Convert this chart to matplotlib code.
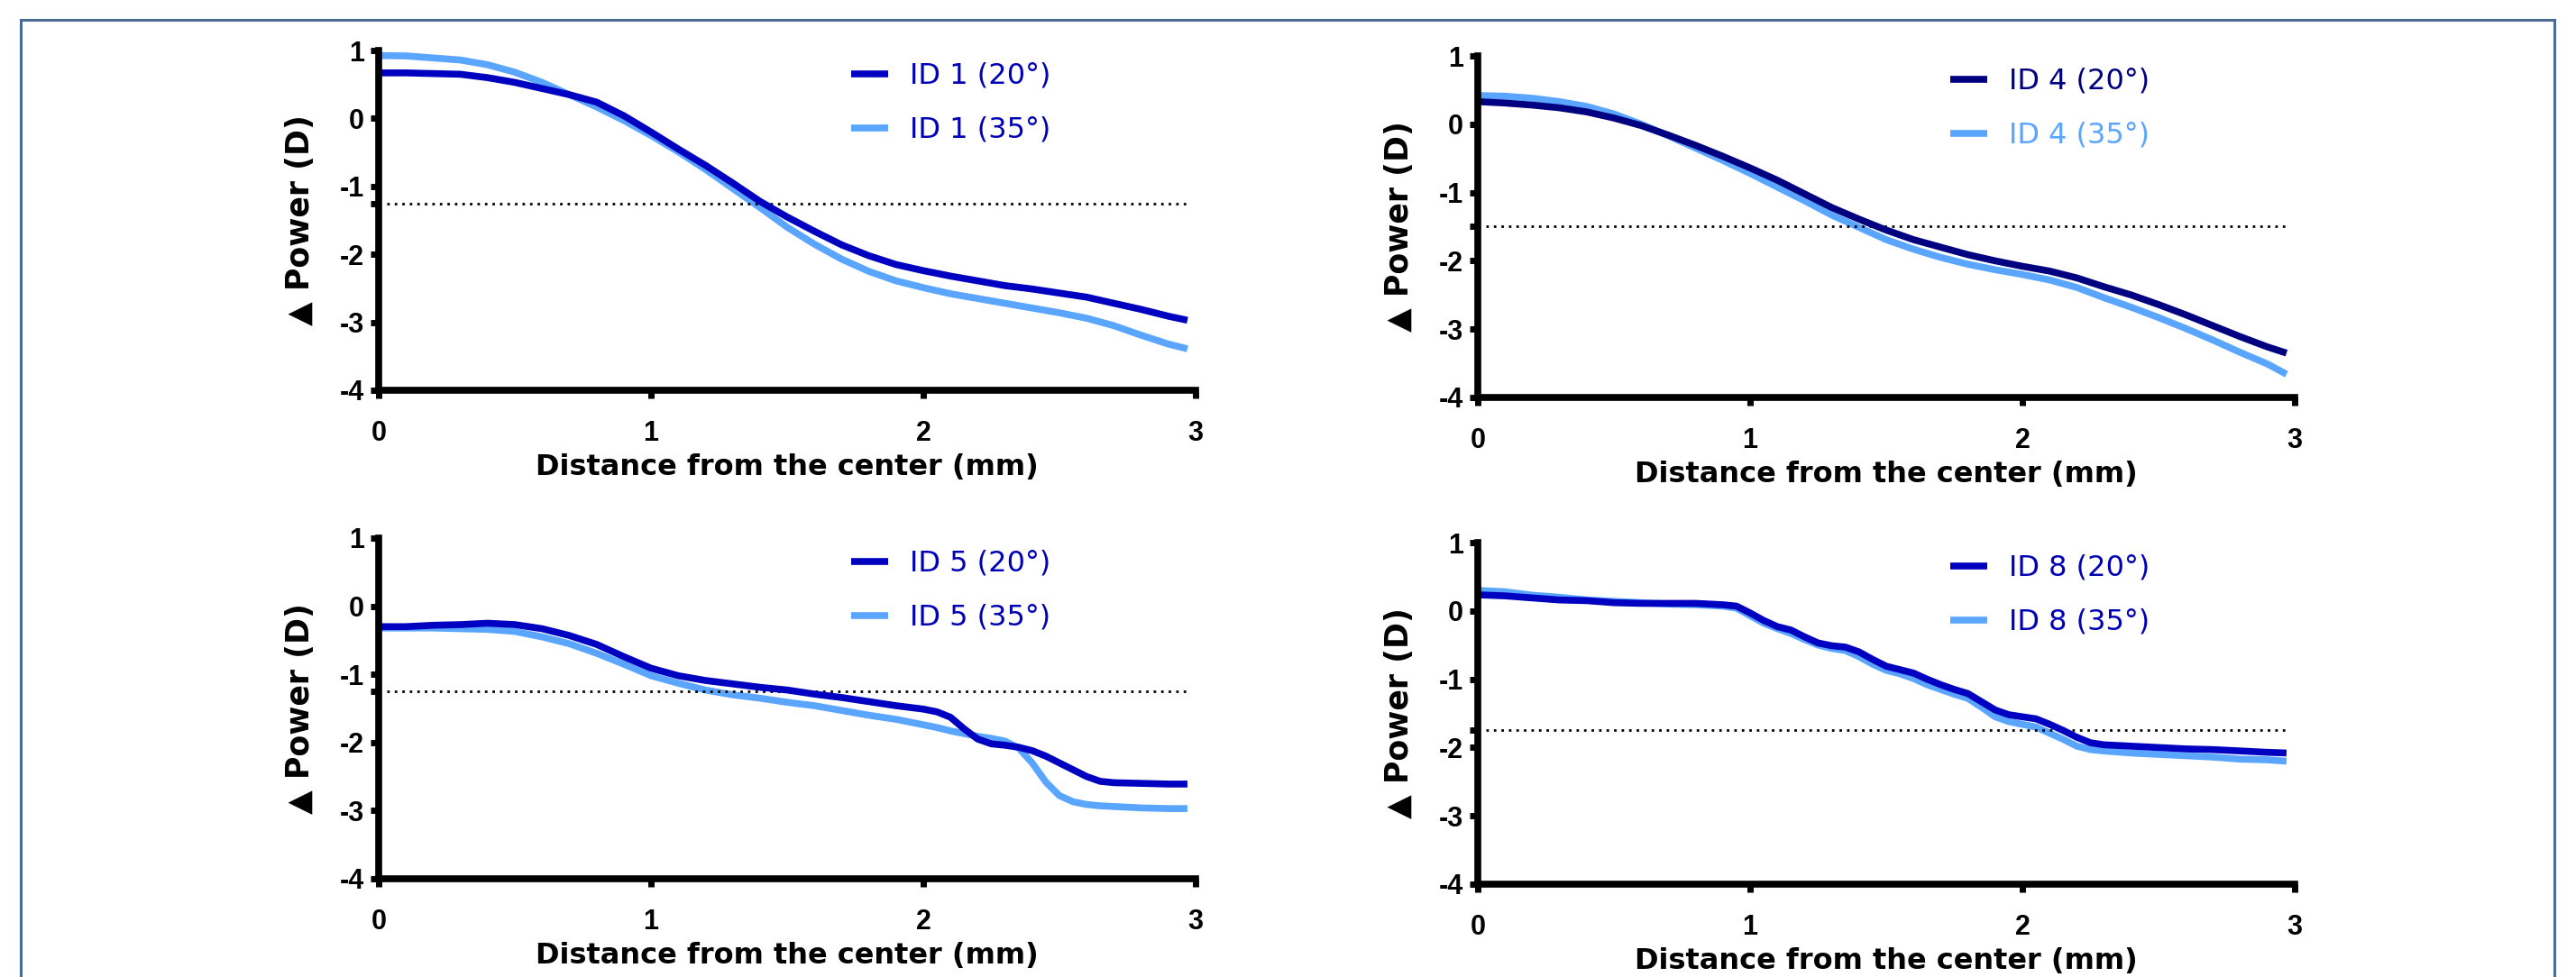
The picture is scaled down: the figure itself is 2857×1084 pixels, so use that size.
import matplotlib.pyplot as plt
from matplotlib.patches import Rectangle

plt.rcParams['axes.unicode_minus'] = False

W, H = 2857, 1084

# distance from the center (mm) and delta power (D)
x_id1 = [0, 0.1, 0.2, 0.3, 0.4, 0.5, 0.6, 0.7, 0.8, 0.9, 1.0, 1.1, 1.2, 1.3, 1.4, 1.5,
         1.6, 1.7, 1.8, 1.9, 2.0, 2.1, 2.2, 2.3, 2.4, 2.5, 2.6, 2.7, 2.8, 2.9, 2.97]
id1_20 = [0.67, 0.67, 0.66, 0.65, 0.60, 0.53, 0.44, 0.35, 0.24, 0.04, -0.20, -0.45, -0.69,
          -0.95, -1.22, -1.45, -1.66, -1.86, -2.02, -2.15, -2.24, -2.32, -2.39, -2.46,
          -2.51, -2.57, -2.63, -2.72, -2.81, -2.91, -2.97]
id1_35 = [0.925, 0.92, 0.89, 0.86, 0.79, 0.68, 0.53, 0.35, 0.17, -0.03, -0.25, -0.49, -0.75,
          -1.03, -1.31, -1.60, -1.85, -2.07, -2.25, -2.39, -2.49, -2.58, -2.65, -2.72,
          -2.79, -2.86, -2.94, -3.05, -3.19, -3.32, -3.39]

x_id4 = x_id1
id4_20 = [0.33, 0.31, 0.28, 0.24, 0.18, 0.09, -0.02, -0.16, -0.31, -0.47, -0.64, -0.82,
          -1.02, -1.22, -1.39, -1.55, -1.69, -1.80, -1.91, -2.00, -2.08, -2.15, -2.25,
          -2.38, -2.50, -2.64, -2.79, -2.95, -3.11, -3.26, -3.35]
id4_35 = [0.42, 0.41, 0.38, 0.33, 0.26, 0.15, 0.00, -0.17, -0.35, -0.53, -0.72, -0.92,
          -1.12, -1.33, -1.51, -1.69, -1.83, -1.95, -2.05, -2.13, -2.20, -2.28, -2.39,
          -2.54, -2.68, -2.83, -2.99, -3.16, -3.34, -3.51, -3.66]

x_id5 = [0, 0.1, 0.2, 0.3, 0.4, 0.5, 0.6, 0.7, 0.8, 0.9, 1.0, 1.1, 1.2, 1.3, 1.4, 1.5,
         1.6, 1.7, 1.8, 1.9, 2.0, 2.05, 2.1, 2.15, 2.2, 2.25, 2.3, 2.35, 2.4, 2.45, 2.5,
         2.55, 2.6, 2.65, 2.7, 2.8, 2.9, 2.97]
id5_20 = [-0.30, -0.30, -0.28, -0.27, -0.25, -0.27, -0.33, -0.43, -0.56, -0.74, -0.91,
          -1.02, -1.09, -1.14, -1.19, -1.23, -1.29, -1.34, -1.40, -1.46, -1.51, -1.55,
          -1.63, -1.80, -1.95, -2.02, -2.04, -2.07, -2.12, -2.20, -2.30, -2.40, -2.50,
          -2.57, -2.59, -2.60, -2.61, -2.61]
id5_35 = [-0.32, -0.32, -0.32, -0.33, -0.34, -0.37, -0.45, -0.55, -0.69, -0.85, -1.02,
          -1.13, -1.23, -1.30, -1.35, -1.41, -1.46, -1.53, -1.60, -1.66, -1.74, -1.78,
          -1.83, -1.87, -1.91, -1.94, -1.98, -2.08, -2.30, -2.58, -2.78, -2.87, -2.91,
          -2.93, -2.94, -2.96, -2.97, -2.97]

x_id8 = [0, 0.1, 0.2, 0.3, 0.4, 0.5, 0.6, 0.7, 0.8, 0.9, 0.95, 1.0, 1.05, 1.1, 1.15, 1.2,
         1.25, 1.3, 1.35, 1.4, 1.45, 1.5, 1.55, 1.6, 1.65, 1.7, 1.75, 1.8, 1.85, 1.9,
         1.95, 2.0, 2.05, 2.1, 2.15, 2.2, 2.25, 2.3, 2.4, 2.5, 2.6, 2.7, 2.8, 2.9, 2.97]
id8_20 = [0.235, 0.22, 0.19, 0.16, 0.15, 0.12, 0.11, 0.11, 0.11, 0.09, 0.07, -0.03, -0.14,
          -0.23, -0.28, -0.38, -0.47, -0.51, -0.53, -0.60, -0.71, -0.81, -0.86, -0.91,
          -1.00, -1.08, -1.15, -1.21, -1.33, -1.45, -1.52, -1.55, -1.58, -1.66, -1.75,
          -1.85, -1.93, -1.96, -1.98, -2.00, -2.02, -2.03, -2.05, -2.07, -2.08]
id8_35 = [0.30, 0.28, 0.23, 0.20, 0.16, 0.14, 0.12, 0.10, 0.09, 0.07, 0.04, -0.07, -0.18,
          -0.26, -0.33, -0.42, -0.50, -0.55, -0.58, -0.67, -0.78, -0.87, -0.92, -0.99,
          -1.08, -1.15, -1.22, -1.28, -1.41, -1.55, -1.62, -1.66, -1.70, -1.79, -1.88,
          -1.98, -2.03, -2.05, -2.08, -2.10, -2.12, -2.14, -2.17, -2.18, -2.20]

# dotted reference level per panel
ref_levels = [-1.25, -1.5, -1.25, -1.75]
ids = ['1', '4', '5', '8']
x_ticks = [0, 1, 2, 3]
y_ticks = [-4, -3, -2, -1, 0, 1]

blue = '#0000c0'
navy = '#000080'
light = '#5aa5ff'
txt_blue = '#0000b4'

# axes box in pixels: x0, y_top, x1, y_bottom
boxes = [(420, 56, 1326, 433), (1639, 62, 2545, 441),
         (420, 597, 1326, 975), (1639, 602, 2545, 981)]

panels = [
    (x_id1, id1_20, id1_35, blue, [txt_blue, txt_blue]),
    (x_id4, id4_20, id4_35, navy, [navy, light]),
    (x_id5, id5_20, id5_35, blue, [txt_blue, txt_blue]),
    (x_id8, id8_20, id8_35, blue, [txt_blue, txt_blue]),
]

fig = plt.figure(figsize=(W / 100, H / 100), dpi=100)

# outer frame (bottom edge runs off the page)
fig.patches.append(Rectangle((23 / W, -0.2), (2833 - 23) / W, 1.2 - 22 / H,
                             transform=fig.transFigure, fill=False,
                             edgecolor='#4a6b93', lw=2.2))

for i, (xs, y20, y35, c20, tcols) in enumerate(panels):
    x0, y0, x1, y1 = boxes[i]
    ax = fig.add_axes([x0 / W, 1 - y1 / H, (x1 - x0) / W, (y1 - y0) / H])
    ax.plot(xs, y35, color=light, lw=5.5, solid_capstyle='butt',
            solid_joinstyle='round', label=f'ID {ids[i]} (35°)', zorder=2)
    ax.plot(xs, y20, color=c20, lw=5.5, solid_capstyle='butt',
            solid_joinstyle='round', label=f'ID {ids[i]} (20°)', zorder=2.1)
    ax.hlines(ref_levels[i], 0.03, 2.98, colors='black', lw=2,
              linestyles=(0, (1, 2)))

    ax.set_xlim(0, 3)
    ax.set_ylim(-4, 1)
    for s in ['top', 'right']:
        ax.spines[s].set_visible(False)
    for s in ['left', 'bottom']:
        ax.spines[s].set_linewidth(5.5)
    ax.set_xticks(x_ticks)
    ax.set_yticks(y_ticks)
    ax.set_yticks([ref_levels[i]], minor=True)
    ax.tick_params(axis='both', width=5, length=6.5, labelsize=22)
    ax.tick_params(axis='y', which='minor', width=5, length=6.5)
    ax.tick_params(axis='x', pad=17)
    ax.tick_params(axis='y', pad=5)
    for lab in ax.get_xticklabels() + ax.get_yticklabels():
        lab.set_fontfamily('Liberation Sans')
        lab.set_fontweight('bold')

    ax.set_xlabel('Distance from the center (mm)', fontsize=23,
                  fontweight='bold', family='DejaVu Sans')
    ax.xaxis.set_label_coords(0.5, -0.186)
    ax.set_ylabel('▲ Power (D)', fontsize=25, fontweight='bold',
                  family='DejaVu Sans')
    ax.yaxis.set_label_coords(-0.077, 0.5)

    h, l = ax.get_legend_handles_labels()
    ax.legend(h[::-1], l[::-1], loc='upper left', bbox_to_anchor=(0.578, 0.966),
              frameon=False, prop={'family': 'DejaVu Sans', 'size': 23},
              handlelength=1.28, handletextpad=0.75, labelspacing=0.91,
              borderpad=0, borderaxespad=0, labelcolor=tcols)

fig.savefig('out.png', dpi=100)
